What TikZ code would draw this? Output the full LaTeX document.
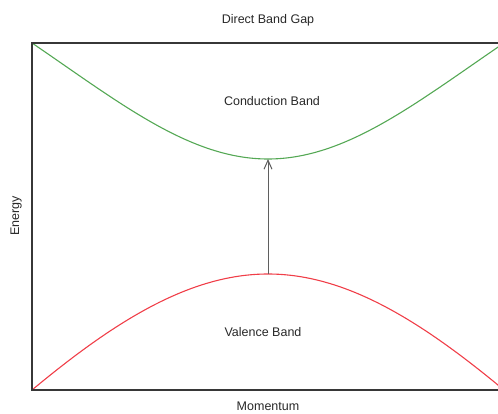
\documentclass[tikz,border=0pt]{standalone}
\usepackage{fontspec}
\setmainfont{Liberation Sans}
\usetikzlibrary{arrows.meta,calc}
\definecolor{bandgreen}{RGB}{84,168,84}
\definecolor{bandred}{RGB}{240,62,72}
\definecolor{framegray}{RGB}{55,55,55}
\definecolor{textgray}{RGB}{40,40,40}

\begin{document}
\begin{tikzpicture}[x=1pt,y=-1pt,
  band/.style={line width=1.1pt},
  lbl/.style={font=\fontsize{12.5}{14}\selectfont,text=textgray,inner sep=0pt}]
\useasboundingbox (0,0) rectangle (498,414);
\clip (0,0) rectangle (498,414);

\coordinate (TL) at (32,43);
\coordinate (BL) at (32,390);
\coordinate (TR) at (504,43);
\coordinate (BR) at (504,390);
\coordinate (CB) at (268,159);
\coordinate (VB) at (268,274);

\draw[band,bandgreen] (TL) .. controls (120,103) and (190,159) .. (CB)
  .. controls (346,159) and (416,103) .. (TR);
\draw[band,bandred] (BL) .. controls (115,321) and (190,274) .. (VB)
  .. controls (346,274) and (421,321) .. (BR);

\draw[line width=1.8pt,framegray] (BR) -- (BL) -- (TL) -- (TR);

\draw[line width=1pt,framegray!80,-{Straight Barb[length=9pt,width=8pt]}] (VB) -- (CB);

\node[lbl] (title) at (268,20) {Direct Band Gap};
\node[lbl] (cond) at (272,101) {Conduction Band};
\node[lbl] (val) at (263,332) {Valence Band};
\node[lbl] (xaxis) at (268,406) {Momentum};
\node[lbl,rotate=90] (yaxis) at (16,216) {Energy};

\end{tikzpicture}
\end{document}
